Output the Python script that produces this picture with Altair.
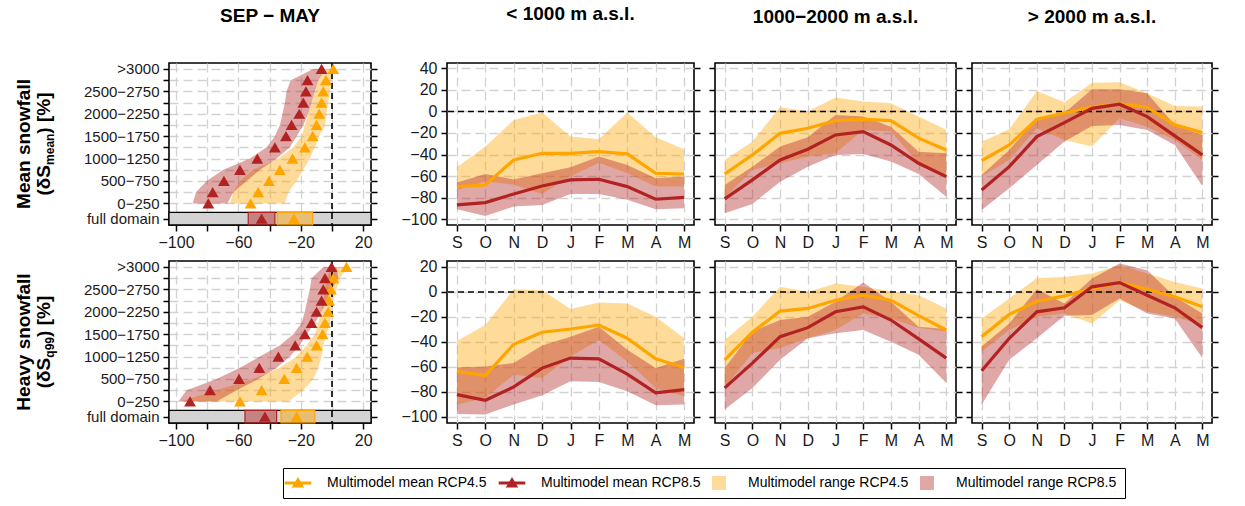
import altair as alt
import pandas as pd

# ---------------- labels ----------------
MONTHS = ["S", "O", "N", "D", "J", "F", "M", "A", "M"]
BANDS = ["0−250", "250−500", "500−750", "750−1000", "1000−1250", "1250−1500",
         "1500−1750", "1750−2000", "2000−2250", "2250−2500", "2500−2750",
         "2750−3000", ">3000"]
COL_TITLES = ["SEP − MAY", "< 1000 m a.s.l.", "1000−2000 m a.s.l.", "> 2000 m a.s.l."]
LEGEND_ITEMS = ["Multimodel mean RCP4.5", "Multimodel mean RCP8.5",
                "Multimodel range RCP4.5", "Multimodel range RCP8.5"]

# ---------------- elevation-band panels (SEP-MAY), bottom band -> top band ----------------
mean_el_r45 = [-52.2, -47.3, -40.4, -33.4, -25.3, -17.4, -12.4, -9.9, -8.2, -6.7, -5.6, -3.9, 0.8]
mean_el_r85 = [-79.3, -76.5, -69.3, -59.0, -47.9, -36.6, -29.5, -25.9, -21.0, -18.4, -16.7, -15.7, -6.7]
mean_el_r45_lo = [-65.4, -63.3, -59.0, -50.5, -34.4, -24.8, -19.5, -17.4, -15.2, -13.1, -11.0, -8.8, -5.6]
mean_el_r45_hi = [-30.2, -28.0, -22.7, -18.4, -14.2, -11.0, -8.2, -4.5, -3.5, -2.4, -1.3, -0.3, 1.2]
mean_el_r85_lo = [-89.3, -87.2, -80.4, -69.7, -52.6, -41.9, -36.6, -33.4, -31.7, -30.2, -29.1, -26.5, -12.0]
mean_el_r85_hi = [-67.0, -63.3, -54.7, -46.2, -35.5, -27.0, -22.7, -18.4, -15.2, -13.1, -11.0, -8.8, -4.5]
mean_full_r45 = [-24.4, -35.1, -12.4]   # mean, low, high
mean_full_r85 = [-45.1, -53.7, -36.6]

heavy_el_r45 = [-59.0, -45.1, -30.6, -22.7, -15.9, -9.9, -6.0, -4.5, -2.4, -1.8, -0.7, 0.8, 9.3]
heavy_el_r85 = [-91.0, -78.2, -59.6, -46.6, -34.4, -23.6, -17.4, -13.1, -9.9, -6.7, -5.6, -4.5, -0.3]
heavy_el_r45_lo = [-97.4, -74.0, -50.5, -33.4, -22.7, -16.3, -11.0, -8.8, -6.7, -5.6, -4.5, -3.5, -0.3]
heavy_el_r45_hi = [-28.0, -18.4, -12.0, -8.8, -6.7, -5.6, -3.5, -1.3, -0.3, 0.8, 2.9, 5.0, 10.4]
heavy_el_r85_lo = [-98.5, -93.2, -74.0, -59.0, -46.2, -33.4, -24.8, -19.5, -17.4, -15.9, -14.2, -13.1, -5.6]
heavy_el_r85_hi = [-74.0, -61.1, -47.3, -35.5, -27.0, -20.6, -16.3, -11.0, -6.7, -3.5, -0.3, 4.0, 2.9]
heavy_full_r45 = [-22.7, -32.7, -11.0]
heavy_full_r85 = [-43.0, -55.8, -35.5]

# ---------------- monthly panels: mean snowfall ----------------
mean_low_r45 = [-69.7, -68.2, -45.0, -38.8, -38.8, -37.3, -39.4, -57.3, -58.0]
mean_low_r85 = [-86.7, -84.5, -76.5, -69.1, -63.5, -62.9, -69.7, -81.4, -79.6]
mean_low_r45_lo = [-72.8, -65.0, -68.0, -76.5, -60.4, -47.5, -57.3, -69.7, -69.7]
mean_low_r45_hi = [-51.8, -32.6, -7.9, -1.1, -23.3, -25.8, -1.1, -24.0, -35.1]
mean_low_r85_lo = [-90.7, -96.9, -88.2, -86.7, -76.5, -76.5, -82.0, -90.7, -89.8]
mean_low_r85_hi = [-66.0, -58.0, -63.0, -57.3, -51.8, -41.9, -49.6, -62.0, -60.4]

mean_mid_r45 = [-58.0, -40.3, -20.3, -15.6, -8.5, -7.3, -8.5, -24.8, -35.7]
mean_mid_r85 = [-81.1, -63.5, -45.0, -35.1, -21.8, -18.7, -31.1, -48.1, -60.4]
mean_mid_r45_lo = [-80.0, -54.3, -48.1, -41.9, -38.8, -17.2, -18.7, -48.0, -60.4]
mean_mid_r45_hi = [-45.0, -27.8, 3.8, 0.0, 12.8, 9.1, 7.6, -4.8, -17.0]
mean_mid_r85_lo = [-94.4, -85.8, -65.1, -51.2, -40.3, -39.4, -46.5, -58.0, -79.0]
mean_mid_r85_hi = [-68.2, -51.2, -32.6, -24.0, -3.3, -4.8, -14.1, -37.3, -38.8]

mean_high_r45 = [-45.6, -31.1, -7.3, -1.5, 4.0, 6.9, 4.0, -12.5, -19.6]
mean_high_r85 = [-72.8, -51.2, -23.4, -10.4, 2.9, 6.7, -4.8, -22.7, -40.3]
mean_high_r45_lo = [-60.4, -45.0, -15.6, -26.4, -32.6, -6.3, -14.1, -26.4, -45.0]
mean_high_r45_hi = [-28.0, -16.6, 19.0, 8.5, 26.7, 27.0, 16.8, 5.1, 4.5]
mean_high_r85_lo = [-91.3, -71.3, -49.6, -27.9, -13.5, -12.5, -17.2, -31.1, -69.1]
mean_high_r85_hi = [-58.9, -35.7, -6.3, -1.5, 20.6, 20.6, 16.8, -12.5, -21.8]

# ---------------- monthly panels: heavy snowfall ----------------
heavy_low_r45 = [-63.7, -66.9, -41.9, -32.3, -29.7, -26.5, -37.1, -53.6, -60.5]
heavy_low_r85 = [-82.3, -86.8, -76.1, -61.0, -53.0, -53.6, -65.8, -80.9, -78.3]
heavy_low_r45_lo = [-90.2, -84.9, -66.3, -69.0, -51.7, -38.4, -55.7, -76.9, -83.6]
heavy_low_r45_hi = [-39.2, -26.5, 2.2, 1.4, -13.7, -8.4, -9.2, -19.8, -37.1]
heavy_low_r85_lo = [-97.7, -98.2, -90.2, -82.8, -71.6, -72.2, -79.6, -90.8, -90.2]
heavy_low_r85_hi = [-60.5, -59.7, -57.0, -43.0, -35.8, -27.8, -46.4, -61.0, -53.6]

heavy_mid_r45 = [-54.4, -32.3, -15.3, -13.2, -6.6, -2.6, -6.6, -19.0, -30.5]
heavy_mid_r85 = [-76.9, -57.0, -35.8, -28.6, -15.9, -11.9, -22.5, -37.6, -53.0]
heavy_mid_r45_lo = [-77.0, -49.0, -45.0, -37.1, -30.5, -17.3, -21.2, -28.6, -31.8]
heavy_mid_r45_hi = [-38.4, -19.8, 4.1, 0.0, 6.7, 4.1, 0.6, -2.6, -13.2]
heavy_mid_r85_lo = [-94.2, -76.9, -54.4, -37.1, -33.1, -30.5, -39.8, -50.4, -73.0]
heavy_mid_r85_hi = [-61.0, -31.8, -22.5, -19.8, -7.9, 7.5, -7.9, -27.8, -29.7]

heavy_high_r45 = [-35.8, -18.0, -7.4, -3.2, 2.7, 7.5, 2.2, -3.9, -11.9]
heavy_high_r85 = [-63.1, -37.1, -15.9, -12.7, 4.1, 7.5, -2.6, -12.7, -28.6]
heavy_high_r45_lo = [-47.7, -30.5, -19.8, -17.2, -25.2, -6.6, -15.9, -19.8, -26.5]
heavy_high_r45_hi = [-21.2, -5.2, 11.2, 12.0, 14.7, 21.3, 14.7, 8.0, 2.7]
heavy_high_r85_lo = [-90.2, -54.4, -37.1, -19.0, -18.5, -5.2, -17.2, -21.2, -53.0]
heavy_high_r85_hi = [-43.7, -25.2, 2.2, -9.2, 10.7, 22.7, 17.3, -3.9, -17.2]

# ---------------- style ----------------
FONT = "Liberation Sans"
C45 = "#FFA500"
C85 = "#B22222"
C45_LIGHT = "#FFDB99"
C85_LIGHT = "#E0A7A7"
GRID = "#D2D2D2"
TXT = "#1A1A1A"
ROW_H = 162
W_LEFT = 202
W_P = [247, 241, 240]
LEFT_EXT = [67, 12, 6]
FD_IDX = -0.35
FD_TOP = 0.2
EL_DOM = [-0.93, 13.53]
MEAN_SYM = "M-1.9,-0.2L1.9,-0.2L1.9,0.2L-1.9,0.2Z M0,-0.85L0.9,0.65L-0.9,0.65Z"

MONTH_EXPR = "[" + ",".join("'%s'" % m for m in MONTHS) + "][datum.value]"
BAND_EXPR = ("datum.value < 0.5 ? 'full domain' : (round(datum.value) % 2 == 1 ? ["
             + ",".join("'%s'" % b for b in BANDS) + "][round(datum.value) - 1] : '')")


def yaxis(values, orient, labels=True, ext=None, grid=True, expr=None, size=16):
    kw = dict(values=values, orient=orient, grid=grid, gridColor=GRID, gridDash=[9, 5],
              gridWidth=1.3, domain=False, ticks=True, tickSize=6, tickWidth=1.5,
              tickColor="black", labels=labels, labelFont=FONT, labelFontSize=size,
              labelColor=TXT, labelPadding=4, labelOverlap=False, title=None)
    if ext is not None:
        kw["minExtent"] = ext
        kw["maxExtent"] = ext
    if expr is not None:
        kw["labelExpr"] = expr
    return alt.Axis(**kw)


def xaxis(values, expr):
    return alt.Axis(values=values, orient="bottom", grid=True, gridColor=GRID, gridDash=[9, 5],
                    gridWidth=1.3, domain=False, ticks=True, tickSize=6, tickWidth=1.5,
                    tickColor="black", labelFont=FONT, labelFontSize=16, labelColor=TXT,
                    labelPadding=3, labelOverlap=False, labelExpr=expr, title=None,
                    minExtent=26, maxExtent=26)


def title_params(text):
    return alt.TitleParams(text=text, font=FONT, fontSize=19, fontWeight="bold", color="black",
                           anchor="middle", frame="group", offset=36)


def month_panel(vals, ydom, yvals, col, title, legend=False):
    r45, r85, r45lo, r45hi, r85lo, r85hi = vals
    df = pd.DataFrame({"m": list(range(9)), "r45": r45, "r85": r85, "r45lo": r45lo,
                       "r45hi": r45hi, "r85lo": r85lo, "r85hi": r85hi})
    xs = alt.Scale(domain=[-0.35, 8.35], nice=False, zero=False)
    ys = alt.Scale(domain=ydom, nice=False, zero=False)
    base = alt.Chart(df)
    a45 = base.mark_area(color=C45, opacity=0.4).encode(
        x=alt.X("m:Q", scale=xs, axis=xaxis(list(range(9)), MONTH_EXPR)),
        y=alt.Y("r45lo:Q", scale=ys,
                axis=yaxis(yvals, "left", labels=(col == 0), ext=LEFT_EXT[col])),
        y2="r45hi:Q")
    a85 = base.mark_area(color=C85, opacity=0.4).encode(
        x=alt.X("m:Q", scale=xs, axis=None),
        y=alt.Y("r85lo:Q", scale=ys, axis=None), y2="r85hi:Q")
    zero = alt.Chart(pd.DataFrame({"z": [0]})).mark_rule(
        color="black", strokeDash=[6, 4], strokeWidth=1.6).encode(
        y=alt.Y("z:Q", scale=ys, axis=None))
    l45 = base.mark_line(color=C45, strokeWidth=3.2).encode(
        x=alt.X("m:Q", scale=xs, axis=None), y=alt.Y("r45:Q", scale=ys, axis=None))
    l85 = base.mark_line(color=C85, strokeWidth=3.2).encode(
        x=alt.X("m:Q", scale=xs, axis=None),
        y=alt.Y("r85:Q", scale=ys, axis=yaxis(yvals, "right", labels=False, ext=6, grid=False)))
    layers = [a45, a85, zero, l45, l85]
    if legend:
        leg = alt.Legend(orient="none", legendX=114, legendY=405, direction="horizontal",
                         columns=4, title=None, strokeColor="black", padding=8,
                         symbolSize=196, symbolOpacity=1, symbolStrokeWidth=0,
                         labelFont=FONT, labelFontSize=14, labelColor="black",
                         labelOffset=22, columnPadding=11, labelLimit=300)
        ldf = pd.DataFrame({"item": LEGEND_ITEMS})
        layers.append(alt.Chart(ldf).mark_point(filled=True, opacity=0).encode(
            fill=alt.Fill("item:N", scale=alt.Scale(domain=LEGEND_ITEMS,
                                                    range=[C45, C85, C45_LIGHT, C85_LIGHT]),
                          legend=leg),
            shape=alt.Shape("item:N", scale=alt.Scale(domain=LEGEND_ITEMS,
                                                      range=[MEAN_SYM, MEAN_SYM, "square", "square"]),
                            legend=leg)))
    ch = alt.layer(*layers).resolve_axis(x="independent", y="independent").properties(
        width=W_P[col], height=ROW_H)
    if title:
        ch = ch.properties(title=title_params(title))
    return ch


def elev_panel(vals, full45, full85, main_label, sub_label, sub_w, title):
    r45, r85, r45lo, r45hi, r85lo, r85hi = vals
    df = pd.DataFrame({"idx": list(range(1, 14)), "r45": r45, "r85": r85, "r45lo": r45lo,
                       "r45hi": r45hi, "r85lo": r85lo, "r85hi": r85hi})
    fdf45 = pd.DataFrame({"mean": [full45[0]], "lo": [full45[1]], "hi": [full45[2]]})
    fdf85 = pd.DataFrame({"mean": [full85[0]], "lo": [full85[1]], "hi": [full85[2]]})
    xs = alt.Scale(domain=[-104.5, 25], nice=False, zero=False)
    ys = alt.Scale(domain=EL_DOM, nice=False, zero=False)
    yvals = [FD_IDX] + list(range(1, 14))
    one = pd.DataFrame({"a": [0]})
    base = alt.Chart(df)

    grey = alt.Chart(one).mark_rect(fill="#D3D3D3", stroke="black", strokeWidth=1.3).encode(
        x=alt.value(0), x2=alt.value(W_LEFT),
        y=alt.Y(datum=FD_TOP, scale=ys, axis=None), y2=alt.Y2(datum=EL_DOM[0]))
    a45 = base.mark_area(color=C45, opacity=0.4, orient="horizontal").encode(
        x=alt.X("r45lo:Q", scale=xs,
                axis=xaxis(list(range(-100, 21, 20)),
                           "abs(datum.value % 40) == 20 ? datum.label : ''")),
        x2="r45hi:Q",
        y=alt.Y("idx:Q", scale=ys, axis=yaxis(yvals, "left", expr=BAND_EXPR, size=15)))
    a85 = base.mark_area(color=C85, opacity=0.4, orient="horizontal").encode(
        x=alt.X("r85lo:Q", scale=xs, axis=None), x2="r85hi:Q",
        y=alt.Y("idx:Q", scale=ys, axis=None))
    zero = alt.Chart(pd.DataFrame({"z": [0]})).mark_rule(
        color="black", strokeDash=[6, 4], strokeWidth=1.6).encode(
        x=alt.X("z:Q", scale=xs, axis=None))
    b45 = alt.Chart(fdf45).mark_rect(fill=C45, fillOpacity=0.45, stroke=C45, strokeWidth=1.2).encode(
        x=alt.X("lo:Q", scale=xs, axis=None), x2="hi:Q",
        y=alt.Y(datum=FD_TOP, scale=ys, axis=None), y2=alt.Y2(datum=EL_DOM[0]))
    b85 = alt.Chart(fdf85).mark_rect(fill=C85, fillOpacity=0.45, stroke=C85, strokeWidth=1.2).encode(
        x=alt.X("lo:Q", scale=xs, axis=None), x2="hi:Q",
        y=alt.Y(datum=FD_TOP, scale=ys, axis=None), y2=alt.Y2(datum=EL_DOM[0]))
    tri = dict(shape="triangle-up", filled=True, opacity=1, size=140)
    t45 = base.mark_point(color=C45, **tri).encode(
        x=alt.X("r45:Q", scale=xs, axis=None), y=alt.Y("idx:Q", scale=ys, axis=None))
    t85 = base.mark_point(color=C85, **tri).encode(
        x=alt.X("r85:Q", scale=xs, axis=None),
        y=alt.Y("idx:Q", scale=ys, axis=yaxis(yvals, "right", labels=False, ext=6, grid=False)))
    f45 = alt.Chart(fdf45).mark_point(color=C45, **tri).encode(
        x=alt.X("mean:Q", scale=xs, axis=None), y=alt.Y(datum=FD_IDX, scale=ys, axis=None))
    f85 = alt.Chart(fdf85).mark_point(color=C85, **tri).encode(
        x=alt.X("mean:Q", scale=xs, axis=None), y=alt.Y(datum=FD_IDX, scale=ys, axis=None))

    # row label (rotated), with subscript
    txt = dict(font=FONT, fontWeight="bold", color="black", angle=270, baseline="middle")
    w1, w3 = 30.6, 41.2
    L = w1 + sub_w + w3
    y0 = ROW_H / 2 + L / 2
    lab1 = alt.Chart(one).mark_text(text=main_label, fontSize=19, align="center", **txt).encode(
        x=alt.value(-145), y=alt.value(ROW_H / 2))
    lab2 = alt.Chart(one).mark_text(text="(δS", fontSize=19, align="left", **txt).encode(
        x=alt.value(-125), y=alt.value(y0))
    lab3 = alt.Chart(one).mark_text(text=sub_label, fontSize=12, align="left", **txt).encode(
        x=alt.value(-119), y=alt.value(y0 - w1))
    lab4 = alt.Chart(one).mark_text(text=") [%]", fontSize=19, align="left", **txt).encode(
        x=alt.value(-125), y=alt.value(y0 - w1 - sub_w))

    ch = alt.layer(grey, a45, a85, zero, b45, b85, t45, t85, f45, f85, lab1, lab2, lab3, lab4)
    ch = ch.resolve_axis(x="independent", y="independent").properties(width=W_LEFT, height=ROW_H)
    if title:
        ch = ch.properties(title=title_params(title))
    return ch


top_y = [-100, -80, -60, -40, -20, 0, 20, 40]
bot_y = [-100, -80, -60, -40, -20, 0, 20]

row1 = alt.hconcat(
    elev_panel([mean_el_r45, mean_el_r85, mean_el_r45_lo, mean_el_r45_hi, mean_el_r85_lo, mean_el_r85_hi],
               mean_full_r45, mean_full_r85, "Mean snowfall", "mean", 31.3, COL_TITLES[0]),
    month_panel([mean_low_r45, mean_low_r85, mean_low_r45_lo, mean_low_r45_hi, mean_low_r85_lo, mean_low_r85_hi],
                [-105.3, 44.9], top_y, 0, COL_TITLES[1]),
    month_panel([mean_mid_r45, mean_mid_r85, mean_mid_r45_lo, mean_mid_r45_hi, mean_mid_r85_lo, mean_mid_r85_hi],
                [-105.3, 44.9], top_y, 1, COL_TITLES[2]),
    month_panel([mean_high_r45, mean_high_r85, mean_high_r45_lo, mean_high_r45_hi, mean_high_r85_lo, mean_high_r85_hi],
                [-105.3, 44.9], top_y, 2, COL_TITLES[3]),
    spacing=0)

row2 = alt.hconcat(
    elev_panel([heavy_el_r45, heavy_el_r85, heavy_el_r45_lo, heavy_el_r45_hi, heavy_el_r85_lo, heavy_el_r85_hi],
               heavy_full_r45, heavy_full_r85, "Heavy snowfall", "q99", 20.7, None),
    month_panel([heavy_low_r45, heavy_low_r85, heavy_low_r45_lo, heavy_low_r45_hi, heavy_low_r85_lo, heavy_low_r85_hi],
                [-105, 24.8], bot_y, 0, None),
    month_panel([heavy_mid_r45, heavy_mid_r85, heavy_mid_r45_lo, heavy_mid_r45_hi, heavy_mid_r85_lo, heavy_mid_r85_hi],
                [-105, 24.8], bot_y, 1, None),
    month_panel([heavy_high_r45, heavy_high_r85, heavy_high_r45_lo, heavy_high_r45_hi, heavy_high_r85_lo, heavy_high_r85_hi],
                [-105, 24.8], bot_y, 2, None, legend=True),
    spacing=0)

chart = alt.vconcat(row1, row2, spacing=6).properties(
    padding={"left": 14, "top": 4, "right": 0, "bottom": 0}, background="white"
).configure_view(stroke="black", strokeWidth=1.6)

chart.save("out.html", embed_options={"renderer": "svg", "actions": False})
